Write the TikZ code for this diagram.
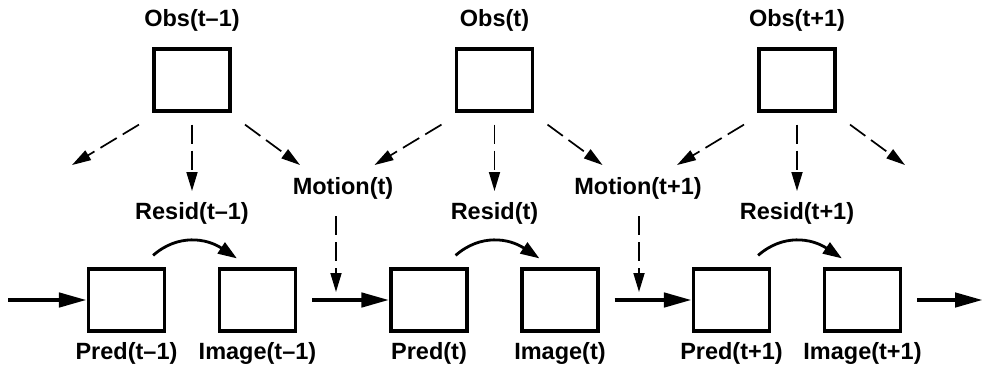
\documentclass[tikz,border=0pt]{standalone}
\usepackage{fontspec}
\setmainfont{Liberation Sans}
\usetikzlibrary{arrows.meta,calc}
\begin{document}
\begin{tikzpicture}[x=1pt,y=-1pt,
  box/.style={draw,line width=3.2pt,minimum width=76pt,minimum height=62pt,inner sep=0pt},
  lbl/.style={font=\fontsize{23.5pt}{26pt}\selectfont\bfseries,inner sep=0pt},
  dsh/.style={line width=1.7pt,dash pattern=on 19pt off 7pt,-{Triangle[length=19pt,width=11pt]}},
  thick arrow/.style={line width=4.5pt,-{Triangle[length=28pt,width=14pt]}},
  curve arrow/.style={line width=2.8pt,-{Triangle[length=19pt,width=13pt]}}]
\useasboundingbox (0,0) rectangle (985,369);
\foreach \k/\s in {0/t\textendash1,1/t,2/t+1}{
  \pgfmathsetmacro{\dx}{302.5*\k}
  \node[box] (obs\k) at (192+\dx,80) {};
  \node[lbl] (obsl\k) at (192+\dx,20) {Obs(\s)};
  \node[lbl] (resid\k) at (192+\dx,213) {Resid(\s)};
  \node[box] (pred\k) at (126.5+\dx,300) {};
  \node[box] (img\k) at (257.5+\dx,300) {};
  \node[lbl] (predl\k) at (126.5+\dx,353) {Pred(\s)};
  \node[lbl] (imgl\k) at (257.5+\dx,353) {Image(\s)};
  \coordinate (dl\k) at (72+\dx,165);
  \coordinate (dm\k) at (192+\dx,191);
  \coordinate (dr\k) at (300+\dx,165);
  \draw[dsh] ($(obs\k.south)+(-53,12)$) -- (dl\k);
  \draw[dsh] ($(obs\k.south)+(0,12)$) -- (dm\k);
  \draw[dsh] ($(obs\k.south)+(53,12)$) -- (dr\k);
  \draw[curve arrow] ($(pred\k.north east)+(-13,-12)$) .. controls +(25,-22) and +(-30,-20) .. ($(img\k.north west)+(19,-9)$);
}
\node[lbl] (mot1) at (343,188) {Motion(t)};
\node[lbl] (mot2) at (638,188) {Motion(t+1)};
\coordinate (m1b) at (336,292);
\coordinate (m2b) at (639,292);
\draw[dsh] (336,216) -- (m1b);
\draw[dsh] (639,216) -- (m2b);
\coordinate (in0) at (8,300);
\coordinate (out2) at (983,300);
\draw[thick arrow] (in0) -- (pred0.west);
\draw[thick arrow] ($(img0.east)+(15,0)$) -- (pred1.west);
\draw[thick arrow] ($(img1.east)+(15,0)$) -- (pred2.west);
\draw[thick arrow] ($(img2.east)+(15,0)$) -- (out2);
\end{tikzpicture}
\end{document}
